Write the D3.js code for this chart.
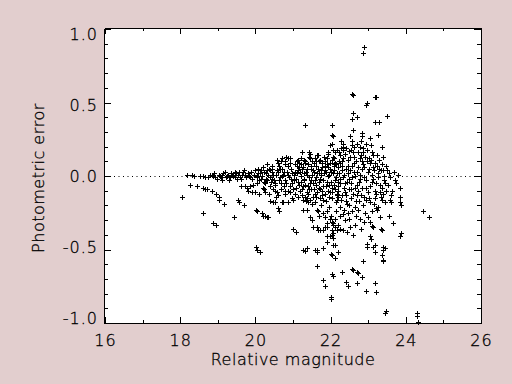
<!DOCTYPE html>
<html>
<head>
<meta charset="utf-8">
<script src="https://cdn.jsdelivr.net/npm/d3@7"></script>
<style>
  body { margin: 0; background: #e2cece; }
  svg { display: block; }
  text { font-family: "DejaVu Sans", sans-serif; font-weight: 200; fill: #000; stroke: #000; stroke-width: 0.3px; }
</style>
</head>
<body>
<div id="chart"></div>
<script>
// axis ticks
const xTicks = [16, 18, 20, 22, 24, 26];
const xMinor = [17, 19, 21, 23, 25];
const yTicks = [-1, -0.5, 0, 0.5, 1];
const yMinor = [-0.9, -0.8, -0.7, -0.6, -0.4, -0.3, -0.2, -0.1, 0.1, 0.2, 0.3, 0.4, 0.6, 0.7, 0.8, 0.9];

// [relative magnitude, photometric error]
const bright = [
  [18.05,-0.14],[18.26,-0.06],[18.45,-0.07],[18.18,0.01],[18.31,0.01],[18.37,0.00],[18.53,0.00],[18.61,0.00],
  [18.66,-0.01],[18.85,0.01],[18.87,0.00],[18.93,-0.01],[18.98,-0.02],[19.06,0.00],[19.19,0.03],[19.24,0.00],
  [19.38,0.01],[19.46,-0.01],[19.54,0.01],[19.64,0.01],[19.72,0.01],[19.80,0.02],[19.88,0.03],[19.99,0.04],
  [20.07,0.02],[19.86,-0.01],[20.04,-0.01],[19.59,-0.01],[19.32,-0.01],[19.11,0.01],[18.74,-0.01],
  [18.61,-0.08],[18.66,-0.09],[18.71,-0.09],[18.85,-0.10],[18.95,-0.12],[19.03,-0.14],[19.03,-0.16],[19.16,-0.19],
  [19.54,-0.16],[19.56,-0.18],[19.70,-0.20],[19.62,-0.07],[19.72,-0.07],[19.78,-0.08],[19.86,-0.07],[19.80,-0.10],
  [19.91,-0.11],[19.99,-0.11],[20.10,-0.12],[19.94,-0.06],[20.04,-0.05],
  [18.61,-0.25],[18.87,-0.32],[18.95,-0.33],[19.43,-0.28],[20.02,-0.48],[20.04,-0.50],[20.12,-0.52],[20.04,-0.24],
  [19.02,0.01],[19.08,-0.01],[19.14,0.02],[19.21,-0.01],[19.27,0.01],[19.35,0.02],[19.41,0.00],[19.49,0.02],
  [19.51,-0.02],[19.57,0.03],[19.62,-0.02],[19.68,0.03],[19.75,-0.01],[19.83,0.00],[19.90,-0.02],[19.95,0.01],
  [19.70,0.04],[19.45,0.03],[19.29,-0.03],[19.12,-0.03],[18.80,0.01],[18.90,0.02]
];

const middle = [
  [20.07,0.05],[20.44,0.05],[20.60,0.09],[20.68,0.10],[20.81,0.13],[20.87,0.12],[20.92,0.12],[21.13,0.11],
  [21.11,0.10],[21.29,0.11],[21.24,0.16],[21.43,0.16],[21.45,0.15],[21.64,0.14],[21.59,0.12],[21.77,0.09],
  [21.85,0.07],[21.98,0.09],[22.09,0.07],[21.93,0.16],[21.94,0.15],[22.04,0.22],[22.04,0.28],[22.06,0.27],
  [21.32,0.35],[22.04,0.35],[22.17,0.18],[20.79,0.10],[20.31,0.04],[20.12,0.02],
  [20.18,0.00],[20.23,0.03],[20.28,-0.02],[20.34,0.01],[20.39,-0.01],[20.44,0.03],[20.50,-0.03],[20.55,0.01],
  [20.60,0.03],[20.66,-0.01],[20.71,0.05],[20.73,0.01],[20.79,-0.03],[20.84,0.03],[20.89,-0.01],[20.95,0.05],
  [20.97,-0.05],[21.03,0.01],[21.08,-0.02],[21.13,0.04],[21.16,-0.06],[21.21,0.00],[21.27,0.06],[21.29,-0.03],
  [21.35,0.03],[21.40,-0.07],[21.43,-0.01],[21.48,0.07],[21.53,-0.05],[21.56,0.03],[21.61,-0.01],[21.67,0.05],
  [21.69,-0.08],[21.75,0.01],[21.80,-0.03],[21.85,0.04],[21.88,-0.07],[21.93,0.00],[21.99,0.05],[22.01,-0.04],
  [22.06,0.02],[22.12,-0.09],[22.14,-0.01],[22.20,0.06],[22.25,-0.05],
  [20.26,-0.05],[20.39,0.04],[20.52,-0.06],[20.66,0.05],[20.76,-0.07],[20.87,0.07],[21.00,-0.09],[21.11,0.07],
  [21.19,-0.10],[21.32,0.09],[21.37,-0.11],[21.51,0.10],[21.59,-0.12],[21.72,0.11],[21.77,-0.13],[21.91,0.12],
  [21.96,-0.14],[22.09,0.12],[22.17,-0.13],[22.22,0.10],
  [21.05,0.03],[21.20,-0.04],[21.38,0.05],[21.47,-0.03],[21.62,0.07],[21.70,-0.04],[21.83,0.02],[21.95,-0.06],
  [21.20,0.08],[21.55,-0.09],[21.78,-0.10],[21.90,0.08],[20.95,-0.02],[20.70,0.00],[20.45,-0.02],[21.50,0.01],[21.70,0.02],
  [20.20,-0.08],[20.26,-0.11],[20.39,-0.07],[20.52,-0.10],[20.58,-0.11],[20.60,-0.13],[20.79,-0.10],[20.87,-0.10],
  [20.39,-0.17],[20.47,-0.18],[20.52,-0.18],[20.60,-0.22],[20.63,-0.24],[20.71,-0.18],[20.73,-0.18],[20.87,-0.18],
  [20.97,-0.15],[21.00,-0.16],[21.24,-0.13],[21.32,-0.14],[21.27,-0.16],[21.37,-0.15],[21.40,-0.18],[21.51,-0.19],
  [21.27,-0.23],[21.37,-0.23],[21.64,-0.23],[21.67,-0.24],[21.80,-0.25],[21.91,-0.24],[21.45,-0.28],[21.51,-0.30],
  [20.18,-0.25],[20.20,-0.27],[20.26,-0.27],[20.31,-0.28],[20.34,-0.28],[20.02,-0.23],[21.00,-0.36],[21.08,-0.38],
  [21.53,-0.35],[21.64,-0.35],[21.67,-0.37],[21.72,-0.37],[21.80,-0.37],[21.85,-0.28],[21.91,-0.32],[21.85,-0.35],
  [21.91,-0.35],[21.99,-0.29],[22.01,-0.27],[22.04,-0.31],[22.06,-0.32],[22.04,-0.37],[22.06,-0.39],[22.04,-0.40],
  [22.06,-0.42],[21.91,-0.45],[21.91,-0.41],[22.12,-0.35],[22.17,-0.37],[21.27,-0.50],[21.32,-0.51],[21.37,-0.49],
  [21.59,-0.50],[21.64,-0.50],[21.64,-0.52],[21.80,-0.49],[22.06,-0.47],[22.04,-0.54],[22.01,-0.53],[22.12,-0.56],
  [21.64,-0.61],[21.80,-0.71],[21.85,-0.75],[22.01,-0.82],[22.01,-0.84],[22.04,-0.67],[22.06,-0.68],
  [20.03,0.00],[20.09,-0.03],[20.14,0.04],[20.16,-0.02],[20.21,0.06],[20.24,-0.04],[20.29,0.02],[20.32,-0.03],
  [20.36,0.05],[20.41,-0.04],[20.43,0.07],[20.48,0.01],[20.53,-0.05],[20.57,0.04],[20.62,-0.03],[20.64,0.07],
  [20.69,-0.05],[20.75,0.03],[20.78,0.08],[20.82,-0.05],[20.86,0.01],[20.91,-0.07],[20.93,0.09],[20.98,0.02],
  [20.22,-0.09],[20.35,-0.12],[20.48,-0.09],[20.56,-0.14],[20.68,-0.09],[20.80,-0.12],[20.92,-0.11],[20.30,0.08],
  [20.58,0.11],[20.72,0.12],
  [21.02,-0.03],[21.04,0.08],[21.07,-0.08],[21.10,0.02],[21.14,-0.04],[21.17,0.09],[21.19,0.03],[21.23,-0.09],
  [21.25,0.05],[21.28,-0.02],[21.31,0.10],[21.33,-0.06],[21.36,0.01],[21.39,-0.12],[21.41,0.08],[21.44,-0.05],
  [21.46,0.12],[21.49,-0.09],[21.52,0.04],[21.54,-0.14],[21.57,0.09],[21.60,-0.06],[21.63,0.02],[21.65,-0.11],
  [21.68,0.10],[21.71,-0.02],[21.73,-0.15],[21.76,0.06],[21.79,-0.07],[21.82,0.13],[21.84,-0.12],[21.87,0.03],
  [21.89,-0.17],[21.92,0.06],[21.94,-0.10],[21.97,0.01],[21.12,-0.14],[21.34,-0.17],[21.58,-0.18],[21.75,-0.20],
  [21.42,0.13],[21.66,0.14],[21.22,0.12],[21.70,-0.27],[21.95,-0.21],
  [21.06,-0.12],[21.15,0.06],[21.26,-0.07],[21.30,0.02],[21.42,-0.09],[21.47,0.05],[21.58,-0.03],[21.61,0.10],
  [21.72,-0.09],[21.74,0.04],[21.81,-0.16],[21.86,0.10],[21.90,-0.04],[21.98,-0.11],[21.45,-0.16],[21.62,-0.14]
];

const faint = [
  [22.89,0.88],[22.86,0.84],[22.57,0.56],[22.60,0.55],[23.18,0.54],[23.21,0.54],[22.94,0.48],[22.97,0.50],
  [22.60,0.43],[22.57,0.39],[22.70,0.40],[23.50,0.41],[23.18,0.37],[23.29,0.37],[22.60,0.31],[22.84,0.29],
  [22.84,0.27],[22.52,0.27],[23.05,0.26],[23.26,0.28],[22.33,0.22],[22.28,0.24],[22.62,0.20],[22.78,0.20],
  [23.08,0.21],[23.37,0.20],[22.57,0.24],[22.81,0.24],[22.33,0.20],[21.99,0.21],[22.12,0.16],[22.33,0.18],
  [22.54,0.18],[22.86,0.16],[23.24,0.14],[23.39,0.13],[22.84,0.10],[23.05,0.09],[23.39,0.04],[23.13,0.06],
  [23.45,-0.05],[23.85,-0.08],[23.85,-0.14],[23.85,-0.18],[23.87,-0.20],[23.58,-0.16],[23.61,-0.18],[23.37,-0.08],
  [23.18,-0.15],[23.37,-0.16],[23.26,-0.21],[23.24,-0.23],[23.10,-0.24],[23.55,-0.27],[23.32,-0.28],[23.66,-0.32],
  [23.10,-0.34],[23.13,-0.35],[23.34,-0.36],[23.37,-0.37],[22.52,-0.35],[22.60,-0.40],[22.12,-0.29],[22.06,-0.33],
  [22.33,-0.37],[22.25,-0.36],[21.99,-0.41],[23.87,-0.39],[23.85,-0.41],[23.05,-0.41],[23.08,-0.43],[22.97,-0.46],
  [22.97,-0.48],[23.18,-0.47],[23.13,-0.48],[23.39,-0.48],[23.39,-0.50],[23.45,-0.49],[23.18,-0.52],[23.37,-0.54],
  [23.39,-0.57],[23.39,-0.58],[22.12,-0.47],[22.20,-0.52],[22.86,-0.58],[22.57,-0.63],[22.60,-0.64],[22.70,-0.65],
  [22.73,-0.66],[22.84,-0.69],[22.30,-0.65],[22.41,-0.72],[22.46,-0.75],[22.70,-0.73],[22.94,-0.78],[23.18,-0.73],
  [23.21,-0.79],[23.47,-0.92],[23.45,-0.93],[24.30,-0.93],[24.30,-0.95],[24.33,-0.99],[24.46,-0.24],[24.62,-0.28],
  [22.04,0.11],[22.09,0.04],[22.14,-0.01],[22.20,-0.07],[22.25,0.14],[22.30,0.07],[22.36,0.01],[22.38,-0.11],
  [22.44,-0.04],[22.46,0.11],[22.52,0.04],[22.54,-0.15],[22.57,-0.01],[22.62,0.09],[22.65,-0.08],[22.70,0.03],
  [22.73,0.16],[22.76,-0.04],[22.81,-0.13],[22.84,0.05],[22.89,-0.01],[22.92,0.13],[22.94,-0.08],[23.00,0.03],
  [23.02,-0.15],[23.08,0.11],[23.10,-0.04],[23.16,0.04],[23.18,-0.10],[23.24,0.07],[23.26,-0.01],[23.32,-0.06],
  [23.34,0.04],[23.39,-0.12],[23.42,0.00],[23.47,0.07],[23.53,-0.06],[23.58,-0.01],[23.63,-0.10],[23.69,0.03],
  [23.74,-0.05],
  [22.06,0.18],[22.17,-0.12],[22.28,-0.16],[22.41,0.19],[22.49,-0.20],[22.60,0.16],[22.68,-0.17],[22.78,0.12],
  [22.86,-0.20],[22.97,0.18],[23.05,-0.18],[23.13,0.14],[23.21,-0.22],[23.29,0.11],[23.45,-0.18],[23.50,0.04],
  [23.61,-0.13],[23.71,-0.03],[23.79,0.01],
  [22.04,-0.15],[22.14,-0.18],[22.25,-0.21],[22.36,-0.23],[22.46,-0.25],[22.57,-0.24],[22.68,-0.27],[22.78,-0.29],
  [22.89,-0.31],[23.00,-0.28],[22.38,-0.30],[22.65,-0.33],[22.25,-0.27],
  [22.10,-0.06],[22.22,0.02],[22.35,-0.08],[22.42,0.05],[22.50,-0.02],[22.58,0.07],[22.66,0.00],[22.74,-0.10],
  [22.20,-0.14],[22.40,-0.17],[22.30,0.10],[22.15,0.08],
  [22.02,0.03],[22.05,-0.08],[22.07,0.13],[22.11,-0.03],[22.13,0.09],[22.16,-0.16],[22.18,0.02],[22.21,-0.10],
  [22.23,0.16],[22.26,-0.02],[22.29,0.04],[22.31,-0.13],[22.34,0.12],[22.37,-0.05],[22.39,0.15],[22.43,-0.19],
  [22.45,0.02],[22.48,-0.09],[22.51,0.13],[22.53,-0.05],[22.56,0.21],[22.59,-0.12],[22.61,0.03],[22.64,-0.21],
  [22.67,0.10],[22.69,-0.06],[22.72,0.06],[22.75,-0.17],[22.77,0.01],[22.80,0.14],[22.83,-0.08],[22.85,0.19],
  [22.88,-0.14],[22.90,0.06],[22.93,-0.03],[22.96,0.10],[22.99,-0.11],[23.03,0.05],[23.06,-0.07],[23.09,0.16],
  [23.12,-0.02],[23.15,-0.19],[23.19,0.09],[23.22,-0.05],[23.27,0.02],[23.31,-0.11],[23.36,0.08],[23.41,-0.03],
  [23.48,-0.10],[23.56,0.02],
  [22.15,-0.24],[22.32,-0.26],[22.50,-0.29],[22.72,-0.23],[22.92,-0.25],[23.05,-0.31],[22.20,-0.33],[22.44,-0.38],
  [22.80,-0.36],
  [22.03,-0.11],[22.08,0.08],[22.19,-0.04],[22.24,0.09],[22.33,-0.01],[22.41,-0.13],[22.47,0.07],[22.55,-0.09],
  [22.63,0.13],[22.71,-0.13],[22.79,-0.02],[22.87,0.08],[22.95,-0.16],[23.01,0.12],[23.11,0.01],[23.20,-0.12],
  [23.28,0.05],[23.35,-0.14],[22.27,0.19],[22.48,0.17],[22.71,0.22],[22.93,0.22]
];

const stars = bright.concat(middle, faint);

const width = 512, height = 384;
const plot = {left: 105, right: 481, top: 29, bottom: 323};

const svg = d3.select("#chart").append("svg")
  .attr("width", width)
  .attr("height", height);

svg.append("rect")
  .attr("width", width).attr("height", height)
  .attr("fill", "#e2cece");

const x = d3.scaleLinear().domain([16, 26]).range([plot.left, plot.right]);
const y = d3.scaleLinear().domain([-1, 1]).range([plot.bottom, plot.top]);
// the y labels sit a little inside the end ticks in the reference
const yLab = d3.scaleLinear().domain([-1, 1]).range([plot.bottom - 5, plot.top + 5]);

svg.append("rect")
  .attr("x", plot.left).attr("y", plot.top)
  .attr("width", plot.right - plot.left)
  .attr("height", plot.bottom - plot.top)
  .attr("fill", "#fff");

// zero line
svg.append("line")
  .attr("x1", plot.left).attr("x2", plot.right)
  .attr("y1", Math.round(y(0)) + 0.5).attr("y2", Math.round(y(0)) + 0.5)
  .attr("stroke", "#000")
  .attr("stroke-dasharray", "1,3.5");

// plus markers
svg.append("g")
  .selectAll("path")
  .data(stars)
  .join("path")
  .attr("d", d => {
    const cx = Math.round(x(d[0])), cy = Math.round(y(d[1]));
    return `M${cx - 2},${cy + 0.5}h5M${cx + 0.5},${cy - 2}v5`;
  })
  .attr("stroke", "#000")
  .attr("stroke-width", 1)
  .attr("fill", "none")
  .attr("shape-rendering", "crispEdges");

const fmt = d => d.toFixed(1);
const fmtX = d => String(d);

function styleAxis(g) {
  g.selectAll("path, line").attr("stroke", "#000").attr("shape-rendering", "crispEdges");
  g.selectAll("text").attr("font-family", null).attr("font-size", null);
}

// bottom
svg.append("g").attr("transform", `translate(0,${plot.bottom})`)
  .call(d3.axisBottom(x).tickValues(xMinor).tickSize(-3).tickSizeOuter(0).tickFormat(""))
  .call(styleAxis);
svg.append("g").attr("transform", `translate(0,${plot.bottom})`)
  .call(d3.axisBottom(x).tickValues(xTicks).tickSize(-6).tickSizeOuter(0).tickPadding(12).tickFormat(fmtX))
  .call(styleAxis)
  .selectAll("text").style("font-size", "16px").style("letter-spacing", "1px");

// top
svg.append("g").attr("transform", `translate(0,${plot.top - 1})`)
  .call(d3.axisTop(x).tickValues(xMinor).tickSize(-3).tickSizeOuter(0).tickFormat(""))
  .call(styleAxis);
svg.append("g").attr("transform", `translate(0,${plot.top - 1})`)
  .call(d3.axisTop(x).tickValues(xTicks).tickSize(-6).tickSizeOuter(0).tickFormat(""))
  .call(styleAxis);

// left
svg.append("g").attr("transform", `translate(${plot.left - 1},0)`)
  .call(d3.axisLeft(y).tickValues(yMinor).tickSize(-4).tickSizeOuter(0).tickFormat(""))
  .call(styleAxis);
const yAx = svg.append("g").attr("transform", `translate(${plot.left - 1},0)`)
  .call(d3.axisLeft(y).tickValues(yTicks).tickSize(-7).tickSizeOuter(0).tickPadding(6).tickFormat(fmt))
  .call(styleAxis);
yAx.selectAll("text")
  .style("font-size", "16px")
  .style("letter-spacing", "1px")
  .attr("y", d => yLab(d) - y(d));

// right
svg.append("g").attr("transform", `translate(${plot.right},0)`)
  .call(d3.axisRight(y).tickValues(yMinor).tickSize(-4).tickSizeOuter(0).tickFormat(""))
  .call(styleAxis);
svg.append("g").attr("transform", `translate(${plot.right},0)`)
  .call(d3.axisRight(y).tickValues(yTicks).tickSize(-7).tickSizeOuter(0).tickFormat(""))
  .call(styleAxis);

// titles
svg.append("text")
  .attr("x", (plot.left + plot.right) / 2)
  .attr("y", 365)
  .attr("text-anchor", "middle")
  .style("font-size", "16px")
  .style("letter-spacing", "0.5px")
  .text("Relative magnitude");

svg.append("text")
  .attr("transform", `translate(44,${(plot.top + plot.bottom) / 2 + 2}) rotate(-90)`)
  .attr("text-anchor", "middle")
  .style("font-size", "16px")
  .style("letter-spacing", "0.5px")
  .text("Photometric error");
</script>
</body>
</html>
